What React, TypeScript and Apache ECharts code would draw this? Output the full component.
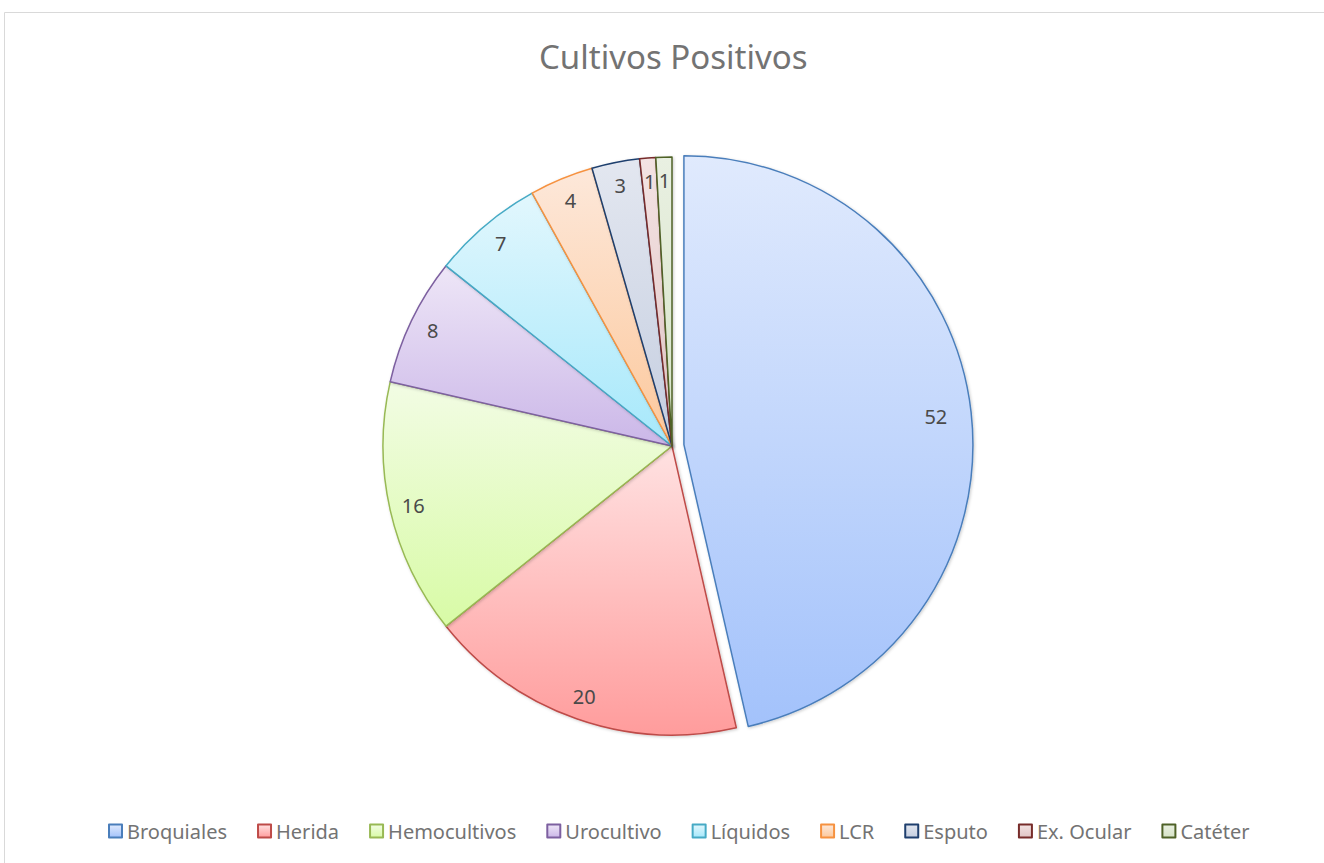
import React, { useEffect, useRef } from "react";
import * as echarts from "echarts";

const categories = ["Broquiales", "Herida", "Hemocultivos", "Urocultivo", "Líquidos", "LCR", "Esputo", "Ex. Ocular", "Catéter"];
const values = [52, 20, 16, 8, 7, 4, 3, 1, 1];
const topColors = ["#e0eafd", "#ffe2e2", "#f2fce4", "#eee6f7", "#e2f7fd", "#fde8da", "#e3e7f0", "#f3e3e3", "#e9f0e2"];
const bottomColors = ["#a3c2fb", "#ff9c9c", "#d8fba6", "#cbb7e8", "#a6e8fb", "#fcc89c", "#c5cee0", "#e0c4c4", "#d6e3c6"];
const borderColors = ["#4a7ebb", "#be4b48", "#98b954", "#7d60a0", "#46aac5", "#f69240", "#1f3f6e", "#772c2a", "#4f6228"];

const FONT = "'Noto Sans', 'Open Sans', sans-serif";

export default function App() {
  const ref = useRef<HTMLDivElement>(null);
  useEffect(() => {
    if (!ref.current) return;
    const chart = echarts.init(ref.current, null, { renderer: "svg" });
    const mainData = categories.map((name, i) => ({
      name,
      value: values[i],
      selected: i === 0,
      itemStyle: {
        color: new echarts.graphic.LinearGradient(0, 0, 0, 1, [
          { offset: 0, color: topColors[i] },
          { offset: 1, color: bottomColors[i] },
        ]),
        borderColor: borderColors[i],
        borderWidth: 1.5,
      },
    }));
    const labelData = categories.map((name, i) => ({ name, value: values[i] }));
    chart.setOption({
      animation: false,
      backgroundColor: "#ffffff",
      title: {
        text: "Cultivos Positivos",
        left: 534,
        top: 35,
        textStyle: { fontFamily: FONT, fontSize: 33, fontWeight: "normal", color: "#737373" },
      },
      legend: {
        data: categories,
        left: 103,
        top: 816,
        icon: "rect",
        itemWidth: 13,
        itemHeight: 13,
        itemGap: 30,
        textStyle: { fontFamily: FONT, fontSize: 20, color: "#737373" },
      },
      graphic: [
        {
          type: "rect",
          silent: true,
          shape: { x: 4.5, y: 12.5, width: 1400, height: 900 },
          style: { fill: "none", stroke: "#d9d9d9", lineWidth: 1 },
        },
      ],
      series: [
        {
          type: "pie",
          center: [672, 446],
          radius: [0, 289],
          startAngle: 90,
          clockwise: true,
          selectedMode: "single",
          selectedOffset: 12,
          label: { show: false },
          labelLine: { show: false },
          emphasis: { disabled: true },
          itemStyle: { shadowBlur: 3, shadowColor: "rgba(0,0,0,0.2)", shadowOffsetX: 1, shadowOffsetY: 1 },
          data: mainData,
        },
        {
          type: "pie",
          center: [672, 446],
          radius: [236, 289],
          startAngle: 90,
          clockwise: true,
          silent: true,
          itemStyle: { color: "rgba(0,0,0,0)", borderWidth: 0 },
          label: {
            show: true,
            position: "inside",
            formatter: "{c}",
            fontFamily: FONT,
            fontSize: 20,
            color: "#4a4a4a",
          },
          labelLine: { show: false },
          emphasis: { disabled: true },
          data: labelData,
        },
      ],
    });
    return () => chart.dispose();
  }, []);
  return <div ref={ref} style={{ position: "absolute", left: 0, top: 0, width: 1324, height: 863 }} />;
}
